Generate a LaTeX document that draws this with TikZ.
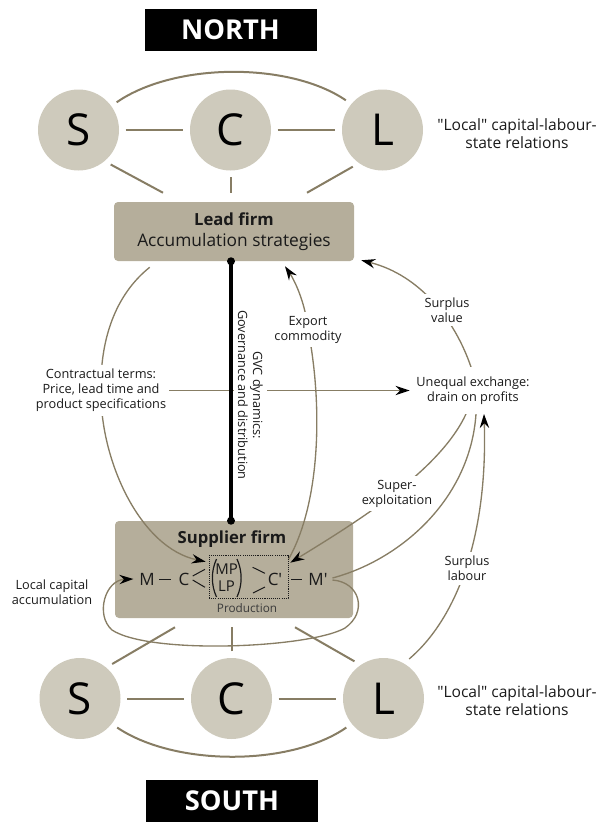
\documentclass[tikz,border=0pt]{standalone}
\usepackage{fontspec}
\setmainfont{Open Sans}
\usetikzlibrary{arrows.meta,calc}
\definecolor{lineC}{HTML}{877D64}
\definecolor{circC}{HTML}{CECABC}
\definecolor{boxC}{HTML}{B5AE9B}
\definecolor{txtC}{HTML}{1A1A1A}
\definecolor{prodC}{HTML}{3A3A3A}
\pgfdeclarelayer{boxlayer}
\pgfdeclarelayer{linelayer}
\pgfsetlayers{boxlayer,linelayer,main}
\newcommand\lblf{\fontsize{9.55}{11.25}\selectfont}
\newcommand\locf{\fontsize{11.7}{13.5}\selectfont}
\newcommand\fmf{\fontsize{12.75}{14}\selectfont}
\begin{document}
\begin{tikzpicture}[x=0.75pt,y=-0.75pt,
  circ/.style={circle,fill=circC,minimum size=60.75pt,inner sep=0pt,outer sep=5pt,text=black,font=\fontsize{33}{33}\selectfont},
  titlebox/.style={fill=black,text=white,font=\bfseries\fontsize{20.5}{20.5}\selectfont,minimum width=129pt,minimum height=31.5pt,inner sep=0pt},
  firmbox/.style={fill=boxC,rounded corners=3pt,inner sep=0pt},
  lbl/.style={fill=white,align=center,font=\lblf,text=txtC,inner xsep=2pt,inner ysep=3pt},
  plain/.style={align=center,text=txtC},
  conn/.style={draw=lineC,line width=1pt},
  rel/.style={draw=lineC,line width=1.5pt},
  arr/.style={-{Stealth[length=10.5pt,width=7pt,inset=3.5pt,black]}},
  fm/.style={font=\fmf,text=txtC,inner sep=0.5pt,text height=9pt,text depth=0pt},
  fl/.style={draw=txtC,line width=0.75pt}
]
\useasboundingbox (0,0) rectangle (604,833);

% titles
\node[titlebox] (north) at (230.5,30) {NORTH};
\node[titlebox] (south) at (232,800.5) {SOUTH};

% circles
\node[circ] (nS) at (78.5,130) {S};
\node[circ] (nC) at (230.5,130) {C};
\node[circ] (nL) at (382.5,130) {L};
\node[circ] (sS) at (80,698.5) {S};
\node[circ] (sC) at (231.5,698.5) {C};
\node[circ] (sL) at (383.5,698.5) {L};
\node[plain,font=\locf] (locN) at (517,134) {\textquotedbl Local\textquotedbl{} capital-labour-\\state relations};
\node[plain,font=\locf] (locS) at (517,701) {\textquotedbl Local\textquotedbl{} capital-labour-\\state relations};

% firm boxes
\begin{pgfonlayer}{boxlayer}
\node[firmbox,minimum width=180pt,minimum height=44.25pt] (lead) at (234,231.5) {};
\node[firmbox,minimum width=178.5pt,minimum height=72.75pt] (supp) at (234,569.5) {};
\end{pgfonlayer}
\node[text=txtC,font=\bfseries\fontsize{12.5}{14}\selectfont] (leadT) at (234,219) {Lead firm};
\node[text=txtC,font=\fontsize{13}{15}\selectfont] (leadA) at (234,242) {Accumulation strategies};
\node[text=txtC,font=\bfseries\fontsize{12.5}{14}\selectfont] (suppT) at (232,539) {Supplier firm};

% formula
\node[draw=txtC,dash pattern=on 0.8pt off 0.8pt,line width=0.5pt,minimum width=59.25pt,minimum height=32.25pt,inner sep=0pt] (prod) at (248.5,576.5) {};
\node[text=prodC,font=\fontsize{8.8}{10}\selectfont] (prodL) at (247,608) {Production};
\node[fm] (M) at (147,579) {M};
\node[fm] (C) at (184,579) {C};
\node[fm,font=\fontsize{11.2}{12}\selectfont,text height=8pt] (MP) at (226.5,569.5) {MP};
\node[fm,font=\fontsize{11.2}{12}\selectfont,text height=8pt] (LP) at (226.5,586) {LP};
\node[fm] (Cp) at (275,579) {C\textquotesingle};
\node[fm] (Mp) at (318,579) {M\textquotesingle};
\draw[fl] ($(M)+(12,0)$) -- ($(C)+(-13,0)$);
\draw[fl] ($(Cp)+(16,0)$) -- ($(Mp)+(-16,0)$);
\draw[fl] ($(C)+(8.7,-3)$) -- ($(C)+(21,-9.7)$);
\draw[fl] ($(C)+(8.7,1)$) -- ($(C)+(21,8.3)$);
\draw[fl] ($(Cp)+(-22.3,-11.7)$) -- ($(Cp)+(-10,-5.7)$);
\draw[fl] ($(Cp)+(-22,14)$) -- ($(Cp)+(-10,8)$);
\draw[fl,line width=0.9pt] ($(MP)+(-10,-10.5)$) .. controls ($(MP)+(-15.5,1.5)$) and ($(MP)+(-15.5,15.5)$) .. ($(MP)+(-10,27.5)$);
\draw[fl,line width=0.9pt] ($(MP)+(10.5,-10.5)$) .. controls ($(MP)+(16,1.5)$) and ($(MP)+(16,15.5)$) .. ($(MP)+(10.5,27.5)$);

% labels
\node[lbl] (contract) at (101,390.5) {Contractual terms:\\Price, lead time and\\product specifications};
\node[lbl,rotate=-90] (gvc) at (250.5,395) {GVC dynamics:\\Governance and distribution};
\node[lbl] (export) at (308,329.5) {Export\\commodity};
\node[lbl] (sval) at (447,310) {Surplus\\value};
\node[lbl,inner xsep=5pt,inner ysep=7pt] (uneq) at (473,390.5) {Unequal exchange:\\drain on profits};
\node[lbl] (sexp) at (397,493.5) {Super-\\exploitation};
\node[lbl] (slab) at (467,568.5) {Surplus\\labour};
\node[plain,font=\lblf] (locacc) at (52,592.5) {Local capital\\accumulation};

% black GVC line
\draw[line width=2.6pt] ($(lead.south)+(-3,0)$) -- ($(supp.north)+(-3,0)$);
\fill ($(lead.south)+(-3,0)$) circle[radius=4];
\fill ($(supp.north)+(-3,0)$) circle[radius=4];

\begin{pgfonlayer}{linelayer}
% north relations
\draw[rel] (nS) -- (nC);
\draw[rel] (nC) -- (nL);
\draw[rel] (nS.36) .. controls (175,62) and (290,62) .. (nL.141);
\draw[rel] (nS.-47) -- ($(lead.north)+(-71,-9)$);
\draw[rel] (nC) -- ($(nC|-lead.north)+(0,-9)$);
\draw[rel] (nL.231.4) -- ($(lead.north)+(73,-9)$);
% south relations
\draw[rel] (sS) -- (sC);
\draw[rel] (sC) -- (sL);
\draw[rel] (sS.-38.6) .. controls (175,766.5) and (290,766.5) .. (sL.218);
\draw[rel] (sS.47) -- ($(supp.south)+(-59,9)$);
\draw[rel] (sC) -- ($(sC|-supp.south)+(0,9)$);
\draw[rel] (sL.128) -- ($(supp.south)+(61,9)$);
% connectors
\draw[conn,arr] ($(lead.south west)+(36,6)$) .. controls (115,295) and (100,340) .. (contract.center) .. controls (100,460) and (140,548) .. ($(prod.north west)+(-3,7)$);
\draw[conn,arr] ($(prod.north east)+(0,5)$) .. controls (322,500) and (322,400) .. (export.center) .. controls (305,300) and (293,278) .. ($(lead.south)+(51,5)$);
\draw[conn] ($(Mp.east)+(4,-1)$) .. controls (400,560) and (470,500) .. ($(uneq.south)+(3,0)$);
\draw[conn,arr] ($(uneq.north)+(-2,0)$) .. controls (455,320) and (420,275) .. ($(lead.south east)+(7,-1)$);
\draw[conn,arr] ($(uneq.south)+(-7,0)$) .. controls (440,470) and (360,520) .. ($(prod.north east)+(2,8)$);
\draw[conn,arr] (sL.57) .. controls (455,620) and (488,540) .. ($(uneq.south)+(11,0)$);
\draw[conn,arr] (contract.east) -- (contract.east -| uneq.west);
\draw[conn,arr] ($(Mp.east)+(4,1)$) .. controls (360,582) and (368,612) .. (345,628) .. controls (310,648) and (150,655) .. (112,630) .. controls (95,615) and (105,580) .. ($(M.west)+(-5,0)$);
\end{pgfonlayer}
\end{tikzpicture}
\end{document}
